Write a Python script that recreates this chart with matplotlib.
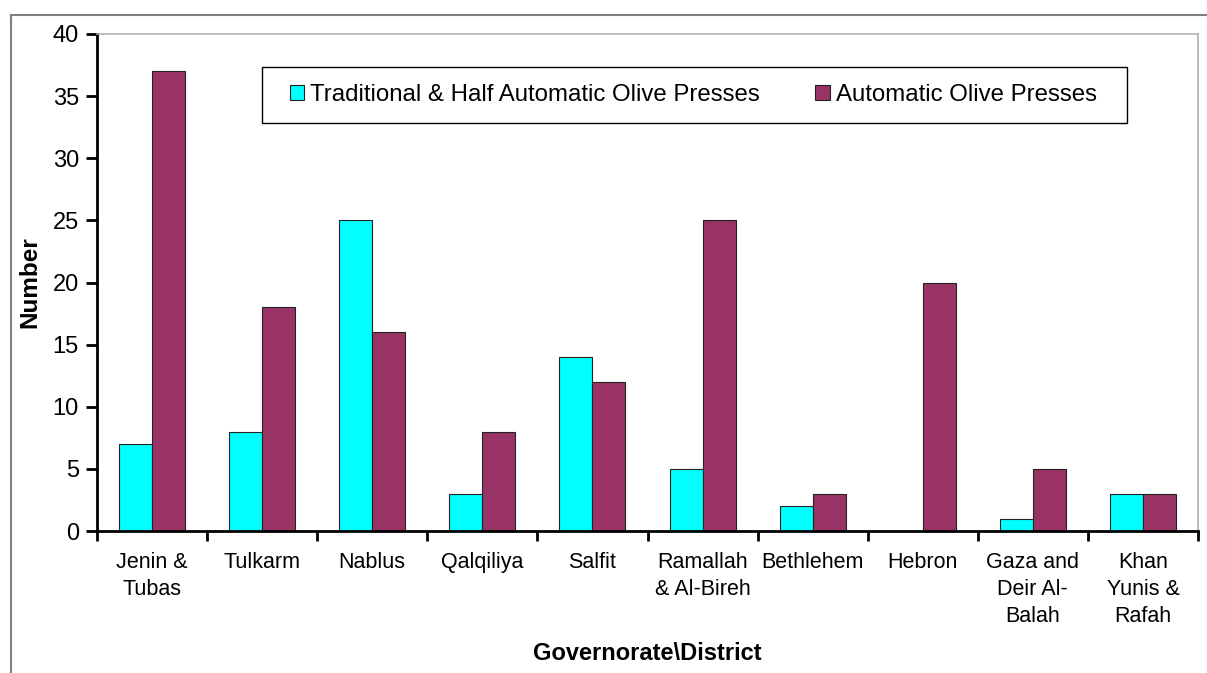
import matplotlib.pyplot as plt
import numpy as np
from matplotlib.patches import Rectangle

plt.rcParams['font.family'] = ['Liberation Sans', 'DejaVu Sans']

districts = ["Jenin &\nTubas", "Tulkarm", "Nablus", "Qalqiliya", "Salfit",
             "Ramallah\n& Al-Bireh", "Bethlehem", "Hebron", "Gaza and\nDeir Al-\nBalah",
             "Khan\nYunis &\nRafah"]
traditional = [7, 8, 25, 3, 14, 5, 2, 0, 1, 3]
automatic = [37, 18, 16, 8, 12, 25, 3, 20, 5, 3]

W, H = 1207, 673
fig = plt.figure(figsize=(W / 100, H / 100), dpi=100)
# outer chart frame
fig.patches.append(Rectangle((11 / W, -0.1), 1.2, 1 - 15 / H + 0.1,
                             transform=fig.transFigure, fill=False,
                             edgecolor='#808080', linewidth=1.5))

ax = fig.add_axes([97 / W, 1 - 531 / H, (1198 - 97) / W, (531 - 34) / H])

x = np.arange(len(districts))
w = 0.3
ax.bar(x - w / 2, traditional, w, color='#00FFFF', edgecolor='#222222', linewidth=0.8,
       label='Traditional & Half Automatic Olive Presses')
ax.bar(x + w / 2, automatic, w, color='#993366', edgecolor='#222222', linewidth=0.8,
       label='Automatic Olive Presses')

ax.set_xlim(-0.5, len(districts) - 0.5)
ax.set_ylim(0, 40)
ax.set_yticks(range(0, 41, 5))
ax.tick_params(axis='y', labelsize=17, length=8, width=2, direction='out', pad=5)
ax.set_xticks(np.arange(len(districts) + 1) - 0.5)
ax.set_xticklabels([])
ax.set_xticks(x, minor=True)
ax.set_xticklabels(districts, minor=True, fontsize=15.5, linespacing=1.38)
ax.tick_params(axis='x', which='minor', length=0, pad=15)
ax.tick_params(axis='x', which='major', length=7, width=2, direction='out')

for s in ['left', 'bottom']:
    ax.spines[s].set_linewidth(2)
for s in ['top', 'right']:
    ax.spines[s].set_color('#b0b0b0')
    ax.spines[s].set_linewidth(1.2)

ax.set_ylabel('Number', fontsize=17.5, fontweight='bold', labelpad=8)
ax.set_xlabel('Governorate\\District', fontsize=17, fontweight='bold', labelpad=11)

# legend box
ax.add_patch(Rectangle((262 / W, 1 - 123 / H), (1127 - 262) / W, 56 / H,
                       transform=fig.transFigure, clip_on=False, facecolor='white',
                       edgecolor='black', linewidth=1.0, zorder=4))
leg = ax.legend(ncol=2, loc='center left', bbox_to_anchor=(290 / W, 1 - 95 / H),
                bbox_transform=fig.transFigure,
                fontsize=17.3, frameon=False,
                handlelength=0.6, handleheight=0.6, handletextpad=0.25,
                columnspacing=2.3, borderpad=0, borderaxespad=0)
leg.set_zorder(5)

fig.savefig('out.png', dpi=100)
